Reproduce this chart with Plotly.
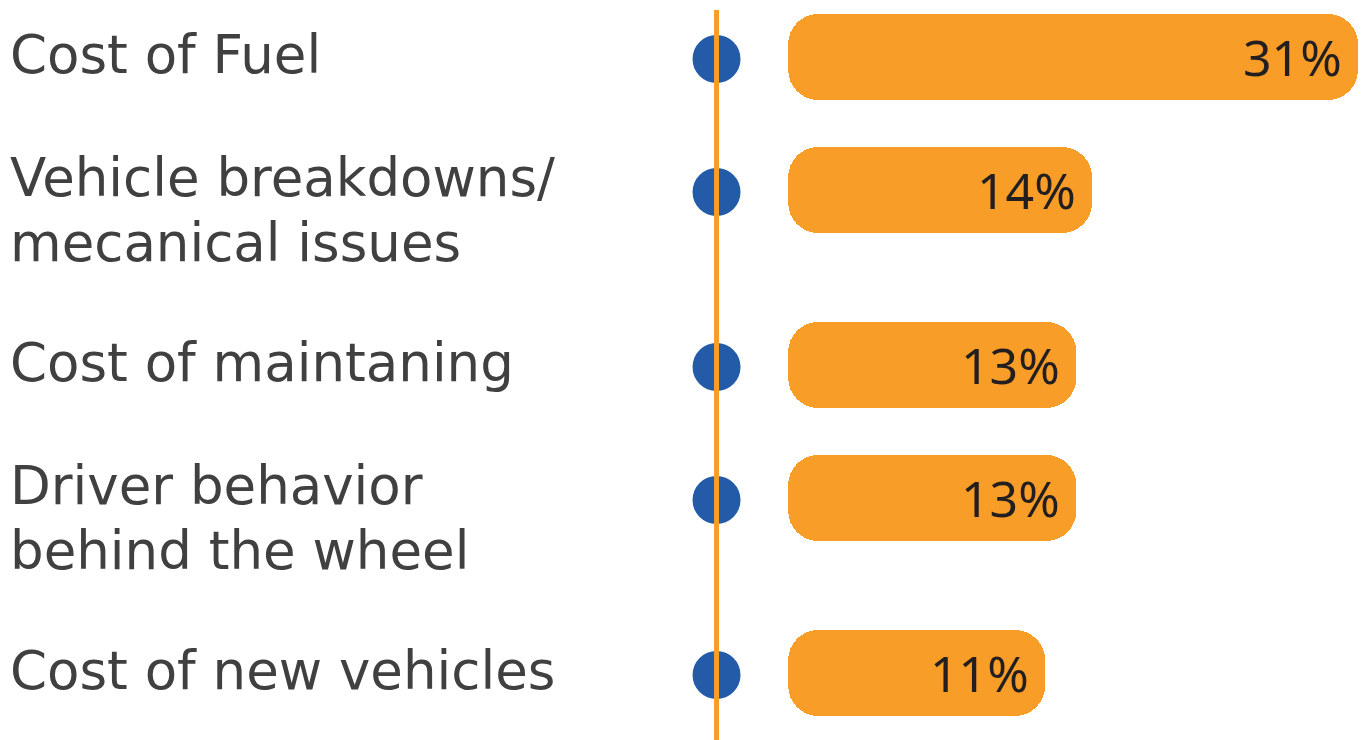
import plotly.graph_objects as go

# ---- data ----
categories = [
    "Cost of Fuel",
    "Vehicle breakdowns/<br>mecanical issues",
    "Cost of maintaning",
    "Driver behavior<br>behind the wheel",
    "Cost of new vehicles",
]
values = [31, 14, 13, 13, 11]
value_labels = ["31%", "14%", "13%", "13%", "11%"]

# ---- style ----
ORANGE = "#F89D27"
BLUE = "#235BA8"
LABEL_COLOR = "#404040"
VALUE_COLOR = "#231F20"
LABEL_FONT = "DejaVu Sans"
VALUE_FONT = "Noto Sans"
W, H = 1365, 740

BAR_BASE = -5.42       # bars start a little right of the marker line
LINE_X = -10.0         # marker line / dots
X_RANGE = [-55.8, 31.45]

# row layout (y in pixel-like units, reversed axis)
first_center = 57
base_gap = 133
extra_line_gap = 42
n_lines = [c.count("<br>") + 1 for c in categories]
row_y = [first_center]
for i in range(1, len(categories)):
    row_y.append(row_y[-1] + base_gap + extra_line_gap * (n_lines[i - 1] - 1))

fig = go.Figure()

fig.add_trace(go.Bar(
    orientation="h",
    y=row_y,
    x=[v - BAR_BASE for v in values],
    base=[BAR_BASE] * len(values),
    width=86,
    marker=dict(color=ORANGE, line=dict(width=0), cornerradius=30),
    hoverinfo="skip",
    showlegend=False,
))

fig.add_trace(go.Scatter(
    x=[LINE_X] * len(values),
    y=[y + 2 for y in row_y],
    mode="markers",
    marker=dict(size=48, color=BLUE, line=dict(width=0)),
    cliponaxis=False,
    hoverinfo="skip",
    showlegend=False,
))

fig.add_shape(
    type="line", xref="x", yref="y",
    x0=LINE_X, x1=LINE_X, y0=10, y1=740,
    line=dict(color=ORANGE, width=5),
    layer="above",
)

annotations = []
line_h = 65
for cat, y, nl in zip(categories, row_y, n_lines):
    lines = cat.split("<br>")
    top = y - 3 - 10 * (nl - 1)
    for j, ln in enumerate(lines):
        annotations.append(dict(
            xref="paper", yref="y",
            x=8 / W, y=top + j * line_h,
            text=ln, showarrow=False,
            xanchor="left", yanchor="middle",
            font=dict(family=LABEL_FONT, size=53, color=LABEL_COLOR),
        ))

for v, lab, y in zip(values, value_labels, row_y):
    annotations.append(dict(
        xref="x", yref="y",
        x=v, y=y, text=lab, showarrow=False,
        xanchor="right", yanchor="middle", xshift=-14,
        font=dict(family=VALUE_FONT, size=50, color=VALUE_COLOR),
    ))

fig.update_layout(
    width=W, height=H,
    margin=dict(l=0, r=0, t=0, b=0),
    paper_bgcolor="white", plot_bgcolor="white",
    annotations=annotations,
    bargap=0,
    hovermode=False,
    xaxis=dict(range=X_RANGE, visible=False, fixedrange=True),
    yaxis=dict(range=[H, 0], visible=False, fixedrange=True),
)

fig.write_html(
    "out.html",
    config={"displayModeBar": False, "staticPlot": True},
    post_script="document.body.style.margin='0';",
)
